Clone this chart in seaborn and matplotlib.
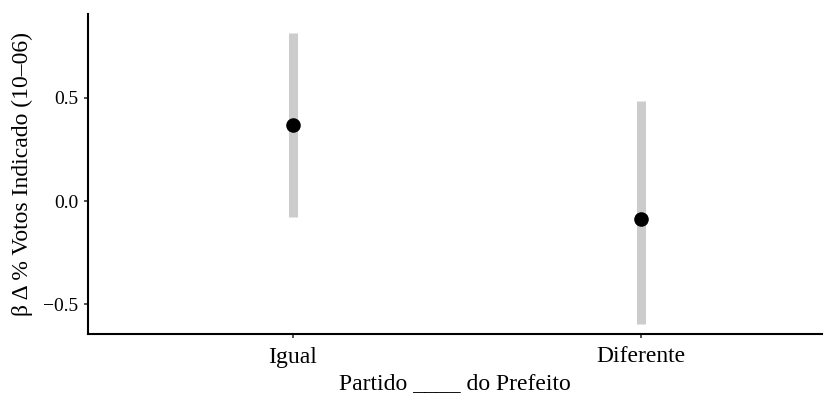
import matplotlib
matplotlib.use("Agg")
import matplotlib.pyplot as plt
import seaborn as sns
import pandas as pd

# Estimates with 95% confidence intervals
categorias = ["Igual", "Diferente"]
estimativa = [0.367, -0.087]
ic_inferior = [-0.077, -0.594]
ic_superior = [0.816, 0.483]
yticks = [-0.5, 0.0, 0.5]
ytick_labels = ["\u22120.5", "0.0", "0.5"]

df = pd.DataFrame({
    "partido": categorias,
    "beta": estimativa,
    "lo": ic_inferior,
    "hi": ic_superior,
})

sns.set_theme(style="ticks")
plt.rcParams["font.family"] = ["Liberation Serif", "DejaVu Serif"]

fig = plt.figure(figsize=(8.27, 4.0), dpi=100)
ax = fig.add_axes([0.1064, 0.165, 0.8876, 0.80])

pos = list(range(len(categorias)))
ax.vlines(pos, df["lo"], df["hi"], color="#cccccc", linewidth=6.5, zorder=1)
sns.scatterplot(data=df, x="partido", y="beta", ax=ax, color="black",
                s=110, edgecolor="black", linewidth=0, zorder=3, legend=False)

ax.set_xlim(-0.589, 1.52)
ax.set_ylim(-0.643, 0.906)
ax.set_yticks(yticks)
ax.set_yticklabels(ytick_labels)
ax.set_xticks(pos)
ax.set_xticklabels(categorias)

ax.tick_params(axis="both", length=3, width=1.2, color="#333333",
               labelcolor="black")
ax.tick_params(axis="y", labelsize=14, pad=4)
ax.tick_params(axis="x", labelsize=17, pad=6)
for side in ["top", "right"]:
    ax.spines[side].set_visible(False)
for side in ["left", "bottom"]:
    ax.spines[side].set_color("black")
    ax.spines[side].set_linewidth(1.5)

ax.set_xlabel("Partido ____ do Prefeito", fontsize=17, labelpad=4, color="black")
ax.set_ylabel("\u03b2 \u0394 % Votos Indicado (10\u201306)", fontsize=17,
              labelpad=7, color="black")

fig.savefig("out.png", dpi=100)
